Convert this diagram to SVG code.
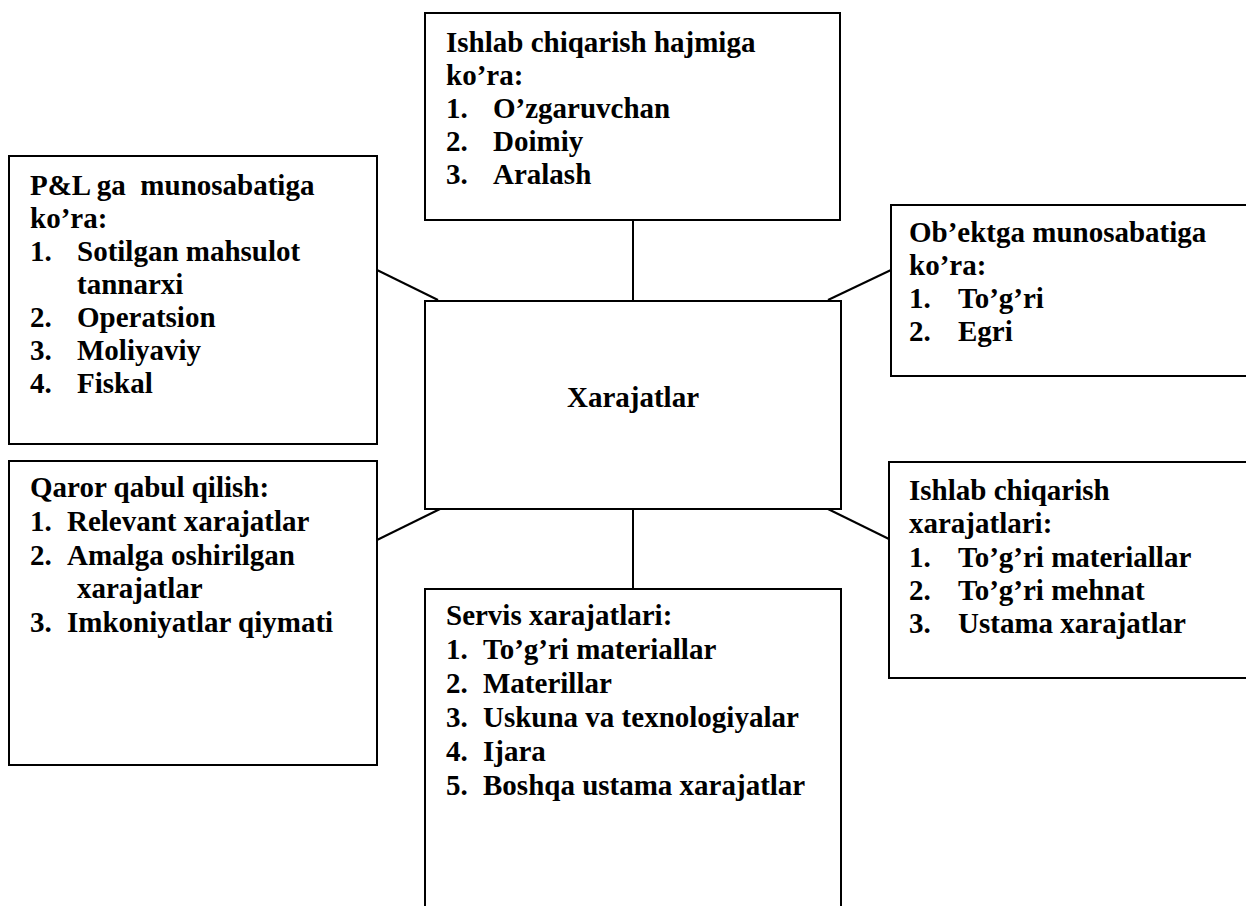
<svg xmlns="http://www.w3.org/2000/svg" width="1246" height="906" viewBox="0 0 1246 906">
<style>
.box{fill:#fff;stroke:#000;stroke-width:2}
.t{font-family:"Liberation Serif","Times New Roman",serif;font-weight:bold;font-size:29px;fill:#000}
.c{stroke:#000;stroke-width:2;fill:none}
</style>
<rect width="1246" height="906" fill="#fff"/>
<g id="connectors">
<line class="c" x1="633" y1="220" x2="633" y2="301"/>
<line class="c" x1="633" y1="509" x2="633" y2="589"/>
<line class="c" x1="377" y1="270" x2="438" y2="300"/>
<line class="c" x1="891" y1="270" x2="828" y2="300"/>
<line class="c" x1="377" y1="540" x2="440" y2="509"/>
<line class="c" x1="891" y1="540" x2="828" y2="509"/>
</g>
<g id="top">
<rect class="box" x="425" y="13" width="415" height="207"/>
<text class="t" x="446" y="52">Ishlab chiqarish hajmiga</text>
<text class="t" x="446" y="85">ko’ra:</text>
<text class="t" x="446" y="118">1.</text><text class="t" x="493" y="118">O’zgaruvchan</text>
<text class="t" x="446" y="151">2.</text><text class="t" x="493" y="151">Doimiy</text>
<text class="t" x="446" y="184">3.</text><text class="t" x="493" y="184">Aralash</text>
</g>
<g id="pl">
<rect class="box" x="9" y="156" width="368" height="288"/>
<text class="t" x="30" y="195" style="white-space:pre">P&amp;L ga  munosabatiga</text>
<text class="t" x="30" y="228">ko’ra:</text>
<text class="t" x="30" y="261">1.</text><text class="t" x="77" y="261">Sotilgan mahsulot</text>
<text class="t" x="77" y="294">tannarxi</text>
<text class="t" x="30" y="327">2.</text><text class="t" x="77" y="327">Operatsion</text>
<text class="t" x="30" y="360">3.</text><text class="t" x="77" y="360">Moliyaviy</text>
<text class="t" x="30" y="393">4.</text><text class="t" x="77" y="393">Fiskal</text>
</g>
<g id="obekt">
<rect class="box" x="891" y="205" width="365" height="171"/>
<text class="t" x="909" y="242">Ob’ektga munosabatiga</text>
<text class="t" x="909" y="275">ko’ra:</text>
<text class="t" x="909" y="308">1.</text><text class="t" x="958" y="308">To’g’ri</text>
<text class="t" x="909" y="341">2.</text><text class="t" x="958" y="341">Egri</text>
</g>
<g id="center">
<rect class="box" x="425" y="301" width="416" height="208"/>
<text class="t" x="633" y="407" text-anchor="middle">Xarajatlar</text>
</g>
<g id="qaror">
<rect class="box" x="9" y="461" width="368" height="304"/>
<text class="t" x="30" y="497">Qaror qabul qilish:</text>
<text class="t" x="30" y="531">1.</text><text class="t" x="67" y="531">Relevant xarajatlar</text>
<text class="t" x="30" y="565">2.</text><text class="t" x="67" y="565">Amalga oshirilgan</text>
<text class="t" x="77" y="598">xarajatlar</text>
<text class="t" x="30" y="632">3.</text><text class="t" x="67" y="632">Imkoniyatlar qiymati</text>
</g>
<g id="ishlab">
<rect class="box" x="889" y="462" width="367" height="216"/>
<text class="t" x="909" y="500">Ishlab chiqarish</text>
<text class="t" x="909" y="533">xarajatlari:</text>
<text class="t" x="909" y="567">1.</text><text class="t" x="958" y="567">To’g’ri materiallar</text>
<text class="t" x="909" y="600">2.</text><text class="t" x="958" y="600">To’g’ri mehnat</text>
<text class="t" x="909" y="633">3.</text><text class="t" x="958" y="633">Ustama xarajatlar</text>
</g>
<g id="servis">
<rect class="box" x="425" y="589" width="416" height="330"/>
<text class="t" x="446" y="625">Servis xarajatlari:</text>
<text class="t" x="446" y="659">1.</text><text class="t" x="483" y="659">To’g’ri materiallar</text>
<text class="t" x="446" y="693">2.</text><text class="t" x="483" y="693">Materillar</text>
<text class="t" x="446" y="727">3.</text><text class="t" x="483" y="727">Uskuna va texnologiyalar</text>
<text class="t" x="446" y="761">4.</text><text class="t" x="483" y="761">Ijara</text>
<text class="t" x="446" y="795">5.</text><text class="t" x="483" y="795">Boshqa ustama xarajatlar</text>
</g>
</svg>
